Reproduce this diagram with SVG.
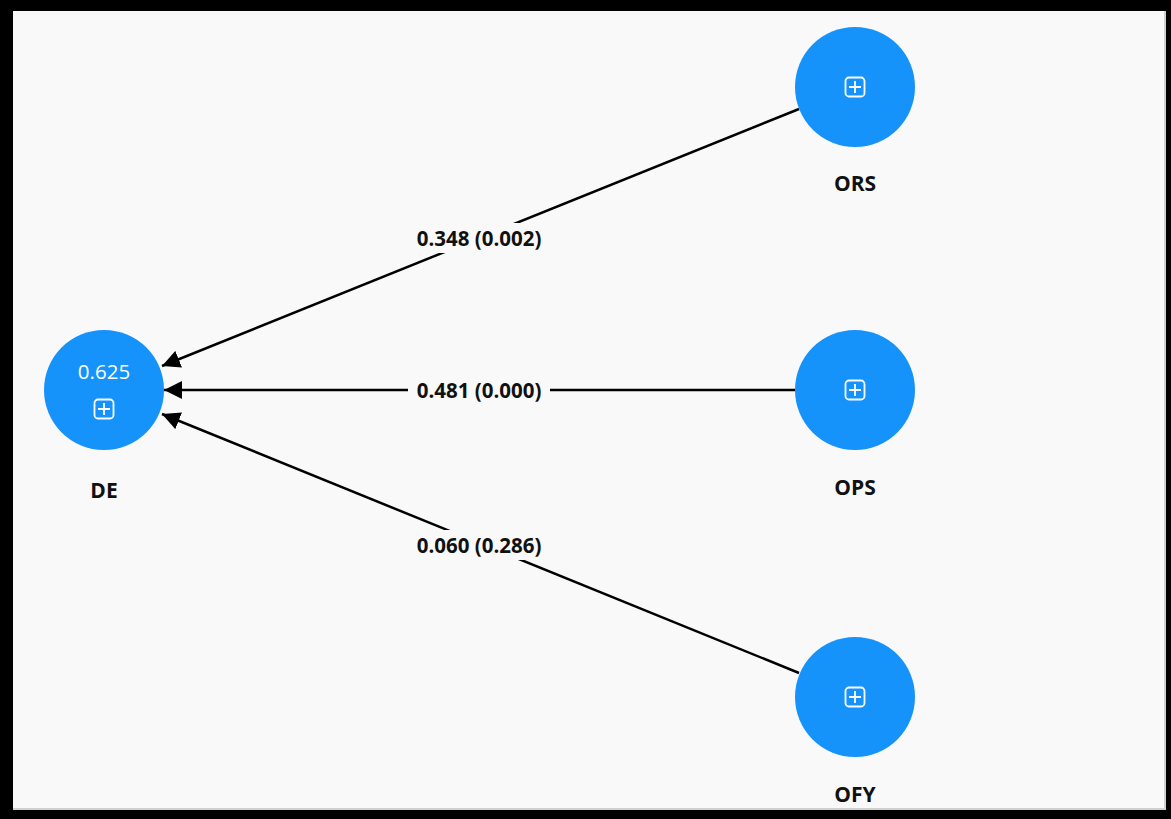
<svg xmlns="http://www.w3.org/2000/svg" width="1171" height="819" viewBox="0 0 1171 819">
<style>
.node{fill:#1593fb;}
.lbl{font-family:"Open Sans","Noto Sans",sans-serif;font-weight:700;font-size:21px;fill:#111;text-anchor:middle;}
.elbl{font-family:"Open Sans","Noto Sans",sans-serif;font-weight:700;font-size:20.5px;fill:#111;text-anchor:middle;}
.val{font-family:"Open Sans","Noto Sans",sans-serif;font-size:20.5px;fill:#fff;text-anchor:middle;}
.edge{stroke:#000;stroke-width:2.5;fill:none;}
.icon{fill:none;stroke:#fff;stroke-width:1.8;}
.bg{fill:#f9f9f9;}
</style>
<defs>
<marker id="arr" markerWidth="18" markerHeight="18" refX="18" refY="9" orient="auto" markerUnits="userSpaceOnUse" viewBox="0 0 18 18">
<path d="M0,0 L18,9 L0,18 z" fill="#000"/>
</marker>
<g id="plus">
<rect x="-9.5" y="-9.5" width="19" height="19" rx="3.5" class="icon"/>
<path d="M0,-6 V6 M-6,0 H6" class="icon"/>
</g>
</defs>
<rect x="0" y="0" width="1171" height="819" fill="#000"/>
<rect x="13" y="11" width="1153" height="799" fill="#d0d0d0"/>
<rect x="13" y="11" width="1151" height="797" class="bg"/>
<g id="connectors">
<g id="e-ors-de">
<line x1="799" y1="109" x2="162" y2="366" class="edge" marker-end="url(#arr)"/>
<rect x="408" y="223" width="142" height="30" class="bg"/>
<text x="479" y="245.5" class="elbl">0.348 (0.002)</text>
</g>
<g id="e-ops-de">
<line x1="795" y1="390" x2="164" y2="390" class="edge" marker-end="url(#arr)"/>
<rect x="408" y="375" width="142" height="30" class="bg"/>
<text x="479" y="397.5" class="elbl">0.481 (0.000)</text>
</g>
<g id="e-ofy-de">
<line x1="799" y1="673" x2="162" y2="414" class="edge" marker-end="url(#arr)"/>
<rect x="408" y="530" width="142" height="30" class="bg"/>
<text x="479" y="552.5" class="elbl">0.060 (0.286)</text>
</g>
</g>
<g id="node-DE">
<circle cx="104" cy="390" r="60" class="node"/>
<text x="104" y="379" class="val">0.625</text>
<use href="#plus" x="104" y="409"/>
<text x="104" y="497.5" class="lbl">DE</text>
</g>
<g id="node-ORS">
<circle cx="855" cy="87" r="60" class="node"/>
<use href="#plus" x="855" y="87"/>
<text x="855" y="190.5" class="lbl">ORS</text>
</g>
<g id="node-OPS">
<circle cx="855" cy="390" r="60" class="node"/>
<use href="#plus" x="855" y="390"/>
<text x="855" y="494.5" class="lbl">OPS</text>
</g>
<g id="node-OFY">
<circle cx="855" cy="697" r="60" class="node"/>
<use href="#plus" x="855" y="697"/>
<text x="855" y="802" class="lbl">OFY</text>
</g>
</svg>
